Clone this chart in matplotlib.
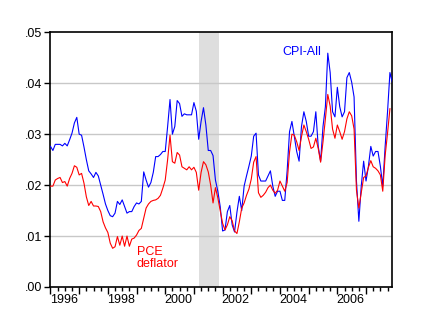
import numpy as np
import matplotlib
matplotlib.use("Agg")
import matplotlib.pyplot as plt
from matplotlib.ticker import FixedLocator, FuncFormatter

plt.rcParams["font.family"] = ["Liberation Sans", "DejaVu Sans"]

# monthly year-over-year inflation, 1996m1 .. 2007m12
start_year = 1996
label_years = [1996, 1998, 2000, 2002, 2004, 2006]

cpi_all = [
    0.0276, 0.0268, 0.0280, 0.0280, 0.0280, 0.0277, 0.0282, 0.0277, 0.0289, 0.0302, 0.0322, 0.0333,
    0.0300, 0.0298, 0.0275, 0.0250, 0.0228, 0.0222, 0.0215, 0.0225, 0.0218, 0.0200, 0.0182, 0.0163,
    0.0150, 0.0140, 0.0138, 0.0145, 0.0168, 0.0162, 0.0171, 0.0158, 0.0145, 0.0148, 0.0148, 0.0158,
    0.0165, 0.0163, 0.0168, 0.0226, 0.0210, 0.0196, 0.0205, 0.0225, 0.0256, 0.0256, 0.0260, 0.0266,
    0.0266, 0.0315, 0.0368, 0.0300, 0.0315, 0.0366, 0.0360, 0.0335, 0.0340, 0.0338, 0.0338, 0.0338,
    0.0362, 0.0345, 0.0290, 0.0325, 0.0352, 0.0318, 0.0268, 0.0268, 0.0258, 0.0210, 0.0188, 0.0158,
    0.0110, 0.0112, 0.0148, 0.0160, 0.0122, 0.0108, 0.0147, 0.0178, 0.0150, 0.0198, 0.0218, 0.0237,
    0.0257, 0.0296, 0.0302, 0.0220, 0.0208, 0.0208, 0.0208, 0.0218, 0.0228, 0.0198, 0.0178, 0.0188,
    0.0188, 0.0170, 0.0170, 0.0228, 0.0305, 0.0325, 0.0296, 0.0266, 0.0247, 0.0315, 0.0344, 0.0325,
    0.0296, 0.0296, 0.0305, 0.0344, 0.0276, 0.0247, 0.0315, 0.0354, 0.0459, 0.0421, 0.0344, 0.0334,
    0.0392, 0.0354, 0.0334, 0.0344, 0.0411, 0.0421, 0.0402, 0.0373, 0.0208, 0.0129, 0.0198, 0.0247,
    0.0208, 0.0237, 0.0276, 0.0257, 0.0266, 0.0266, 0.0237, 0.0198, 0.0276, 0.0344, 0.0421, 0.0402,
]

pce_deflator = [
    0.0198, 0.0198, 0.0210, 0.0213, 0.0215, 0.0205, 0.0207, 0.0198, 0.0213, 0.0223, 0.0238, 0.0235,
    0.0220, 0.0223, 0.0204, 0.0177, 0.0160, 0.0168, 0.0159, 0.0159, 0.0158, 0.0148, 0.0128, 0.0116,
    0.0107, 0.0086, 0.0076, 0.0079, 0.0099, 0.0082, 0.0100, 0.0080, 0.0100, 0.0080, 0.0094, 0.0096,
    0.0102, 0.0111, 0.0115, 0.0135, 0.0155, 0.0163, 0.0168, 0.0170, 0.0171, 0.0174, 0.0180, 0.0194,
    0.0210, 0.0250, 0.0298, 0.0246, 0.0243, 0.0264, 0.0259, 0.0236, 0.0233, 0.0230, 0.0236, 0.0230,
    0.0235, 0.0225, 0.0190, 0.0225, 0.0246, 0.0240, 0.0226, 0.0200, 0.0165, 0.0195, 0.0175, 0.0150,
    0.0125, 0.0112, 0.0122, 0.0138, 0.0130, 0.0110, 0.0105, 0.0128, 0.0155, 0.0165, 0.0180, 0.0192,
    0.0212, 0.0245, 0.0256, 0.0185, 0.0176, 0.0180, 0.0186, 0.0195, 0.0200, 0.0190, 0.0184, 0.0190,
    0.0208, 0.0198, 0.0188, 0.0205, 0.0265, 0.0300, 0.0298, 0.0285, 0.0268, 0.0295, 0.0318, 0.0305,
    0.0290, 0.0272, 0.0275, 0.0292, 0.0272, 0.0245, 0.0285, 0.0330, 0.0378, 0.0355, 0.0310, 0.0292,
    0.0318, 0.0305, 0.0290, 0.0305, 0.0330, 0.0344, 0.0336, 0.0310, 0.0190, 0.0155, 0.0185, 0.0215,
    0.0218, 0.0235, 0.0248, 0.0236, 0.0233, 0.0228, 0.0220, 0.0188, 0.0258, 0.0302, 0.0350, np.nan,
]

# NBER recession, 2001m3 - 2001m11 (month index)
recession = (62, 70.5)

months = np.arange(len(cpi_all))

fig = plt.figure(figsize=(4.29, 3.35), dpi=100)
ax = fig.add_axes([0.1177, 0.1433, 0.7968, 0.7603])

ax.axvspan(recession[0], recession[1], color="#dedede", lw=0, zorder=0)
for v in [0.01, 0.02, 0.03, 0.04]:
    ax.axhline(v, color="#c8c8c8", lw=1.0, zorder=1)

ax.plot(months, cpi_all, color="#0000ff", lw=0.8, zorder=3)
ax.plot(months, pce_deflator, color="#ff0000", lw=0.8, zorder=4)

ax.set_xlim(0, len(cpi_all) - 1)
ax.set_ylim(0, 0.05)

ax.set_yticks([0.0, 0.01, 0.02, 0.03, 0.04, 0.05])
ax.yaxis.set_major_formatter(FuncFormatter(lambda v, p: f"{v:.2f}".lstrip("0")))
ax.tick_params(axis="y", direction="out", length=4, width=1, labelsize=9, pad=2)

year_starts = np.arange(0, len(cpi_all), 12)
ax.xaxis.set_major_locator(FixedLocator(year_starts))
ax.xaxis.set_minor_locator(FixedLocator([m for m in np.arange(0, len(cpi_all), 3) if m % 12]))
ax.set_xticklabels([])
ax.tick_params(axis="x", which="major", direction="out", length=5, width=1)
ax.tick_params(axis="x", which="minor", direction="out", length=3, width=1)

for yr in label_years:
    ax.text((yr - start_year) * 12 + 5.5, -0.05, str(yr), transform=ax.get_xaxis_transform(),
            ha="center", va="center", fontsize=9)

for s in ax.spines.values():
    s.set_linewidth(1.2)
    s.set_color("black")

ax.text(105, 0.0461, "CPI-All", color="#0000ff", fontsize=9, ha="center", va="center")
ax.text(36, 0.0081, "PCE\ndeflator", color="#ff0000", fontsize=9, ha="left", va="top",
        linespacing=1.05)

fig.savefig("out.png", dpi=100)
